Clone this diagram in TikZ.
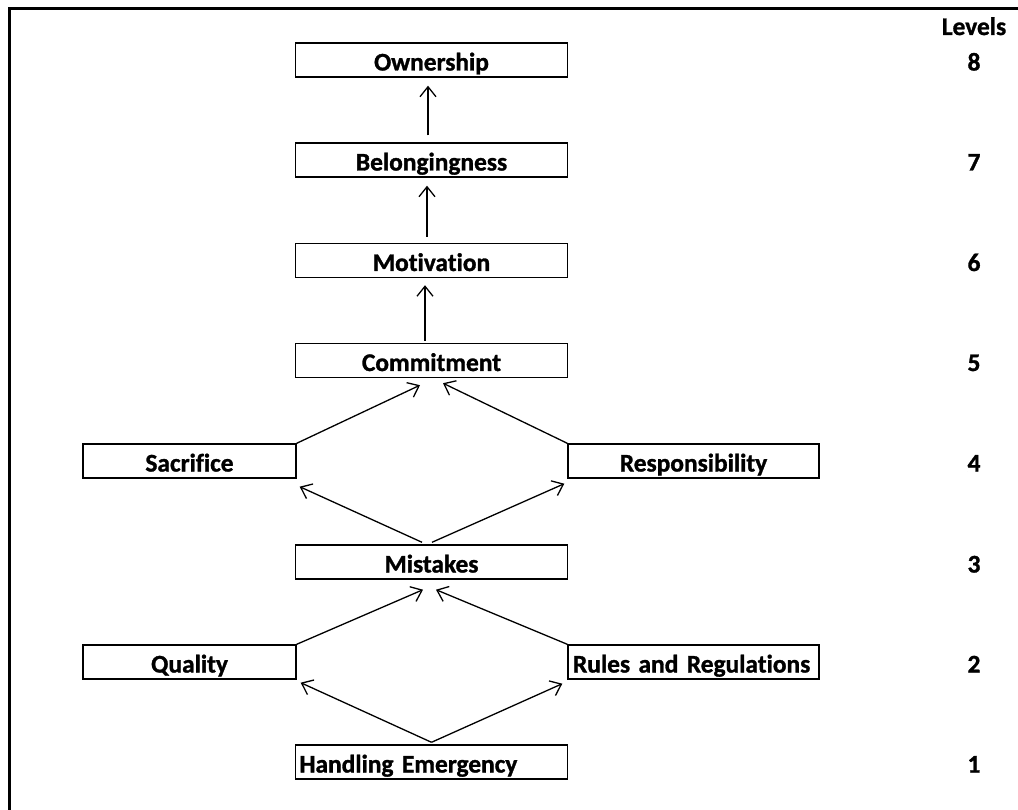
\documentclass[tikz,border=0pt]{standalone}
\usepackage{fontspec}
\setmainfont{Carlito}[Ligatures=NoCommon, BoldFeatures={FakeBold=1.2}]
\usetikzlibrary{arrows.meta}
\begin{document}
\begin{tikzpicture}[x=1pt,y=-1pt,
  txt/.style={inner sep=0pt, text height=21pt, text depth=0pt, font=\fontsize{25.4}{30}\selectfont\bfseries},
  box/.style={txt, draw, line width=1.4pt, minimum height=34pt},
  arr/.style={-{Straight Barb[length=10pt,width=16pt]}, line width=1.3pt}]
\useasboundingbox (0,0) rectangle (1018,810);
\draw[line width=3pt] (9.5,810) -- (9.5,8.5) -- (1018,8.5);
% boxes
\node[box, minimum width=272pt] (own) at (431.5,60) {Ownership};
\node[box, minimum width=272pt] (bel) at (431.5,160) {Belongingness};
\node[box, minimum width=272pt] (mot) at (431.5,260.5) {Motivation};
\node[box, minimum width=272pt] (com) at (431.5,360.5) {Commitment};
\node[box, minimum width=213pt] (sac) at (189.5,461) {Sacrifice};
\node[box, minimum width=251pt] (res) at (693.5,461) {Responsibility};
\node[box, minimum width=272pt] (mis) at (431.5,562) {Mistakes};
\node[box, minimum width=213pt] (qua) at (189.5,662) {Quality};
\node[box, minimum width=251pt, inner xsep=5pt, text width=241pt, align=left] (rul) at (693.5,662) {Rules and Regulations};
\node[box, minimum width=272pt, inner xsep=4pt, text width=264pt, align=left] (han) at (431.5,762) {Handling Emergency};
% levels
\node[txt] (levels) at (974,24.5) {Levels};
\node[txt] (l8) at (974,60) {8};
\node[txt] (l7) at (974,160) {7};
\node[txt] (l6) at (974,260.5) {6};
\node[txt] (l5) at (974,360.5) {5};
\node[txt] (l4) at (974,461) {4};
\node[txt] (l3) at (974,562) {3};
\node[txt] (l2) at (974,662) {2};
\node[txt] (l1) at (974,762) {1};
% connectors
\draw[arr] ([xshift=-3.5pt,yshift=7pt]bel.north) -- ([xshift=-3.5pt,yshift=-8pt]own.south);
\draw[arr] ([xshift=-4.5pt,yshift=6pt]mot.north) -- ([xshift=-4.5pt,yshift=-8pt]bel.south);
\draw[arr] ([xshift=-6.5pt,yshift=2pt]com.north) -- ([xshift=-6.5pt,yshift=-7pt]mot.south);
\draw[arr] (sac.north east) -- ([xshift=-11.5pt,yshift=-7pt]com.south);
\draw[arr] (res.north west) -- ([xshift=11.5pt,yshift=-5pt]com.south);
\draw[arr] ([xshift=-9.5pt,yshift=2pt]mis.north) -- ([xshift=3pt,yshift=-8pt]sac.south east);
\draw[arr] ([xshift=0.5pt,yshift=2pt]mis.north) -- ([xshift=-3pt,yshift=-5pt]res.south west);
\draw[arr] (qua.north east) -- ([xshift=-8.5pt,yshift=-10pt]mis.south);
\draw[arr] (rul.north west) -- ([xshift=4.5pt,yshift=-10pt]mis.south);
\draw[arr] ([yshift=2pt]han.north) -- ([xshift=4pt,yshift=-3pt]qua.south east);
\draw[arr] ([yshift=2pt]han.north) -- ([xshift=-5pt,yshift=-4pt]rul.south west);
\end{tikzpicture}
\end{document}
